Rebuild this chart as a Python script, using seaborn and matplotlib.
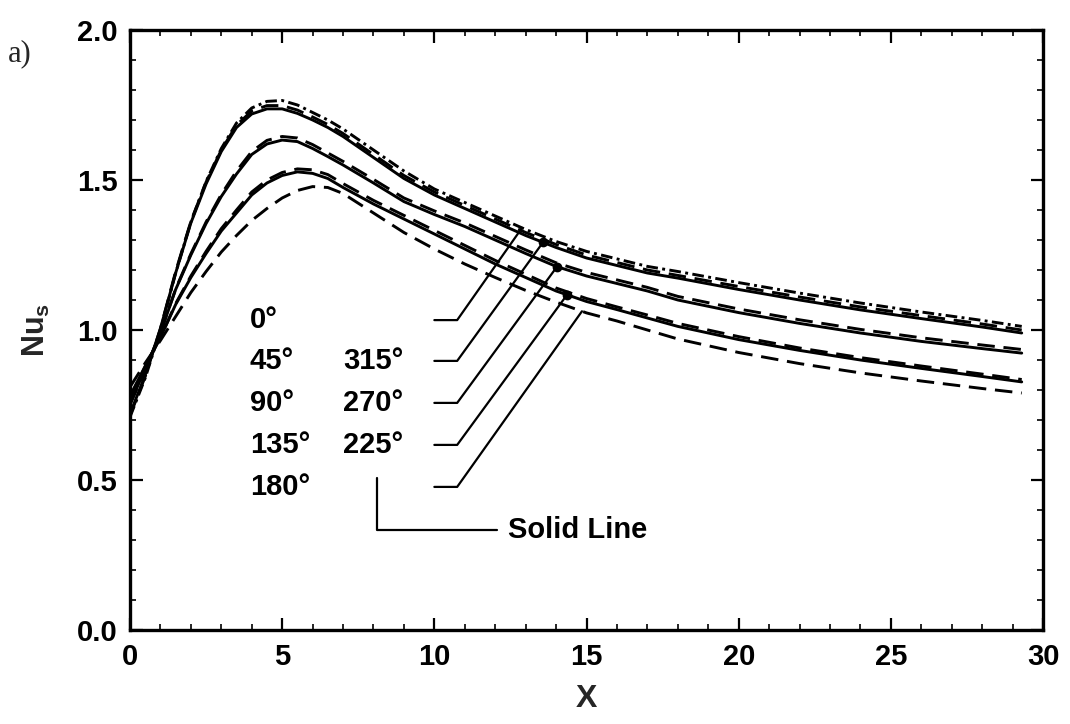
import numpy as np
import pandas as pd
import matplotlib
matplotlib.use("Agg")
import matplotlib.pyplot as plt
import seaborn as sns
from matplotlib.ticker import MultipleLocator

# ---------------- data ----------------
X = [0, 0.5, 1, 1.5, 2, 2.5, 3, 3.5, 4, 4.5, 5, 5.5, 6, 6.5, 7, 8, 9, 10,
     11, 12, 13, 14, 15, 16, 17, 18, 20, 22, 24, 26, 28, 29.3]

nu_0 = [0.71, 0.84, 1.0, 1.19, 1.36, 1.495, 1.605, 1.69, 1.74, 1.762, 1.765, 1.75,
        1.725, 1.70, 1.67, 1.60, 1.53, 1.47, 1.425, 1.38, 1.335, 1.295, 1.262, 1.237,
        1.212, 1.195, 1.158, 1.123, 1.09, 1.06, 1.032, 1.012]
nu_45 = [0.715, 0.845, 1.005, 1.195, 1.362, 1.493, 1.60, 1.683, 1.73, 1.748, 1.748, 1.733,
         1.71, 1.685, 1.655, 1.585, 1.515, 1.46, 1.415, 1.37, 1.325, 1.285, 1.25, 1.225,
         1.20, 1.182, 1.145, 1.11, 1.077, 1.048, 1.02, 1.0]
nu_315 = [0.72, 0.85, 1.005, 1.19, 1.357, 1.487, 1.595, 1.675, 1.72, 1.737, 1.737, 1.722,
          1.70, 1.675, 1.645, 1.575, 1.505, 1.45, 1.405, 1.36, 1.315, 1.275, 1.24, 1.215,
          1.19, 1.173, 1.135, 1.10, 1.067, 1.038, 1.01, 0.99]
nu_90 = [0.75, 0.868, 0.99, 1.137, 1.254, 1.36, 1.452, 1.53, 1.595, 1.632, 1.645, 1.64,
         1.618, 1.59, 1.562, 1.502, 1.44, 1.397, 1.357, 1.312, 1.267, 1.224, 1.192, 1.167,
         1.142, 1.112, 1.07, 1.034, 1.002, 0.974, 0.95, 0.935]
nu_270 = [0.755, 0.87, 0.99, 1.135, 1.25, 1.355, 1.445, 1.52, 1.585, 1.62, 1.633, 1.628,
          1.605, 1.578, 1.55, 1.49, 1.428, 1.385, 1.345, 1.30, 1.255, 1.212, 1.18, 1.155,
          1.13, 1.10, 1.058, 1.022, 0.99, 0.962, 0.938, 0.923]
nu_135 = [0.775, 0.878, 0.975, 1.088, 1.18, 1.262, 1.338, 1.40, 1.46, 1.50, 1.525, 1.537,
          1.534, 1.518, 1.488, 1.432, 1.382, 1.332, 1.282, 1.232, 1.186, 1.14, 1.105, 1.077,
          1.05, 1.022, 0.978, 0.94, 0.908, 0.88, 0.853, 0.835]
nu_225 = [0.78, 0.88, 0.975, 1.085, 1.175, 1.255, 1.33, 1.39, 1.45, 1.49, 1.515, 1.527,
          1.522, 1.505, 1.475, 1.42, 1.37, 1.32, 1.27, 1.22, 1.175, 1.13, 1.095, 1.068,
          1.04, 1.012, 0.968, 0.932, 0.90, 0.872, 0.845, 0.827]
nu_180 = [0.81, 0.89, 0.965, 1.045, 1.125, 1.195, 1.26, 1.315, 1.365, 1.405, 1.44, 1.465,
          1.478, 1.475, 1.455, 1.39, 1.325, 1.27, 1.22, 1.175, 1.132, 1.093, 1.057, 1.03,
          1.0, 0.97, 0.925, 0.888, 0.857, 0.83, 0.805, 0.79]

angles = ["0", "45", "315", "90", "270", "135", "225", "180"]
series = [nu_0, nu_45, nu_315, nu_90, nu_270, nu_135, nu_225, nu_180]
styles = {"0": (4, 1.5, 1, 1.5), "45": (6, 3), "315": "", "90": (6, 3), "270": "",
          "135": (6, 3), "225": "", "180": (6, 3)}

x_ticks = [0, 5, 10, 15, 20, 25, 30]
y_ticks = [0.0, 0.5, 1.0, 1.5, 2.0]

# label rows: left column, right column, row height, curve each leader points to
left_labels = ["0°", "45°", "90°", "135°", "180°"]
right_labels = ["", "315°", "270°", "225°", ""]
row_y = [1.033, 0.897, 0.757, 0.617, 0.477]
leader_target = [nu_0, nu_315, nu_270, nu_225, nu_180]
leader_end_x = [12.88, 13.57, 14.03, 14.36, 14.85]

# ---------------- build ----------------
df = pd.DataFrame({
    "X": np.tile(X, len(angles)),
    "Nu": np.concatenate(series),
    "angle": np.repeat(angles, len(X)),
})

sns.set_theme(style="ticks")
plt.rcParams["font.family"] = ["Liberation Sans", "DejaVu Sans"]
plt.rcParams["mathtext.fontset"] = "custom"
plt.rcParams["mathtext.bf"] = "Liberation Sans:bold"
plt.rcParams["mathtext.rm"] = "Liberation Sans"

fig = plt.figure(figsize=(10.7, 7.24), dpi=100)
ax = fig.add_axes([0.1215, 0.1298, 0.8533, 0.8288])

sns.lineplot(data=df, x="X", y="Nu", style="angle", style_order=angles,
             dashes=styles, color="black", linewidth=2.1, legend=False,
             estimator=None, ax=ax)

ax.set_xlim(0, 30)
ax.set_ylim(0, 2.0)
ax.set_xticks(x_ticks)
ax.set_yticks(y_ticks)
ax.set_xticklabels([str(v) for v in x_ticks])
ax.set_yticklabels([f"{v:.1f}" for v in y_ticks])
ax.xaxis.set_minor_locator(MultipleLocator(1))
ax.yaxis.set_minor_locator(MultipleLocator(0.1))
ax.tick_params(which="both", direction="in", top=True, right=True, colors="black")
ax.tick_params(which="major", length=9, width=1.6, labelsize=21, pad=9)
ax.tick_params(which="minor", length=4, width=1.2)
for lab in ax.get_xticklabels() + ax.get_yticklabels():
    lab.set_fontweight("bold")
for sp in ax.spines.values():
    sp.set_linewidth(2.4)
    sp.set_color("black")

ax.set_xlabel("X", fontsize=23, fontweight="bold", labelpad=10)
ax.set_ylabel(r"$\mathbf{Nu_s}$", fontsize=22, labelpad=18)

# labels and leader lines
txt_kw = dict(fontsize=21, fontweight="bold", va="center", ha="left", color="black")
for i, y in enumerate(row_y):
    ax.text(3.94, y, left_labels[i], **txt_kw)
    if right_labels[i]:
        ax.text(7.0, y, right_labels[i], **txt_kw)
    xe = leader_end_x[i]
    ye = float(np.interp(xe, X, leader_target[i]))
    ax.plot([10.0, 10.75, xe], [y, y, ye], color="black", lw=1.6)
    if 0 < i < 4:
        ax.plot([xe], [ye], "o", color="black", ms=6)

# "Solid Line" pointer
ax.plot([8.12, 8.12, 12.06], [0.507, 0.333, 0.333], color="black", lw=1.6)
ax.text(12.42, 0.333, "Solid Line", **txt_kw)

fig.text(0.007, 1 - 54 / 724, "a)", fontsize=22, family="Liberation Serif",
         va="center", ha="left")

fig.savefig("out.png", dpi=100, facecolor="white")
